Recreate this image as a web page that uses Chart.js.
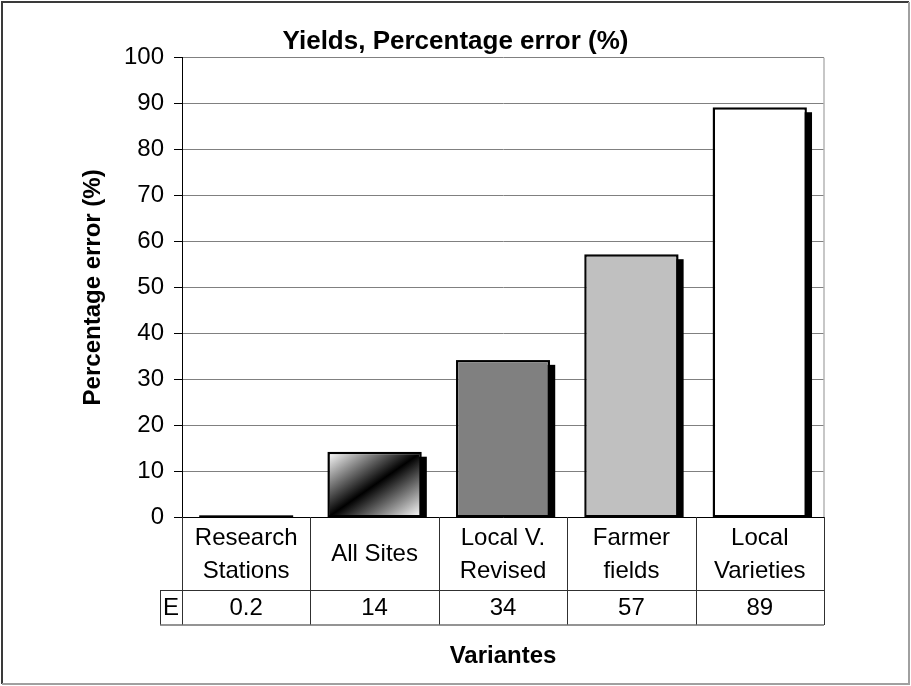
<!DOCTYPE html>
<html>
<head>
<meta charset="utf-8">
<title>Yields, Percentage error (%)</title>
<script src="https://cdn.jsdelivr.net/npm/chart.js@4/dist/chart.umd.min.js"></script>
<style>
  html, body { margin: 0; padding: 0; background: #ffffff; }
  #wrap { width: 911px; height: 686px; position: relative; }
</style>
</head>
<body>
<div id="wrap"><canvas id="chart" width="911" height="686"></canvas></div>
<script>
// ---- data ----
const categories = [
  ['Research', 'Stations'],
  ['All Sites'],
  ['Local V.', 'Revised'],
  ['Farmer', 'fields'],
  ['Local', 'Varieties']
];
const seriesName = 'E';
const errorValues = [0.2, 14, 34, 57, 89];
const yTickMin = 0;
const yTickMax = 100;
const yTickStep = 10;

// ---- styling ----
const FONT = 'Arial, "Liberation Sans", Helvetica, sans-serif';
const barFills = ['#000000', 'diagonal', '#808080', '#c0c0c0', '#ffffff'];

Chart.defaults.font.family = FONT;
Chart.defaults.font.size = 24;
Chart.defaults.color = '#000000';

// White-black-white band running corner to corner (bottom-left to top-right)
function diagonalFill(chart, index) {
  const xs = chart.scales.x, ys = chart.scales.y;
  if (!xs || !ys || !chart.chartArea) return '#808080';
  const cx = xs.getPixelForValue(index);
  const w = (xs.width / categories.length) * 0.72;
  const top = ys.getPixelForValue(errorValues[index]);
  const base = ys.getPixelForValue(0);
  const h = base - top;
  const cy = top + h / 2;
  const n2 = w * w + h * h;
  const k = (w * h) / n2;
  const g = chart.ctx.createLinearGradient(cx - k * h, cy - k * w, cx + k * h, cy + k * w);
  g.addColorStop(0, '#ffffff');
  g.addColorStop(0.5, '#000000');
  g.addColorStop(1, '#ffffff');
  return g;
}

// Page background and outer frame
const framePlugin = {
  id: 'frame',
  beforeDraw(chart) {
    const ctx = chart.ctx;
    ctx.save();
    ctx.fillStyle = '#ffffff';
    ctx.fillRect(0, 0, chart.width, chart.height);
    ctx.restore();
  },
  afterDraw(chart) {
    const ctx = chart.ctx;
    ctx.save();
    ctx.lineWidth = 2;
    ctx.strokeStyle = '#3a3a3a';
    ctx.beginPath();
    ctx.moveTo(2, chart.height - 2);
    ctx.lineTo(2, 2);
    ctx.lineTo(chart.width - 2, 2);
    ctx.stroke();
    ctx.strokeStyle = '#a0a0a0';
    ctx.beginPath();
    ctx.moveTo(chart.width - 2, 2);
    ctx.lineTo(chart.width - 2, chart.height - 2);
    ctx.lineTo(2, chart.height - 2);
    ctx.stroke();
    ctx.restore();
  }
};

// Right edge of the plot area
const plotEdgePlugin = {
  id: 'plotEdge',
  beforeDatasetsDraw(chart) {
    const { ctx, chartArea: a } = chart;
    ctx.save();
    ctx.strokeStyle = '#b4b4b4';
    ctx.lineWidth = 1.5;
    ctx.beginPath();
    ctx.moveTo(a.right, a.top);
    ctx.lineTo(a.right, a.bottom);
    ctx.stroke();
    ctx.restore();
  }
};

// Solid drop shadow behind each bar, and a crisp outline on top of it
const barShadowPlugin = {
  id: 'barShadow',
  beforeDatasetsDraw(chart) {
    const { ctx, chartArea: a } = chart;
    const meta = chart.getDatasetMeta(0);
    ctx.save();
    ctx.beginPath();
    ctx.rect(a.left, a.top, a.right - a.left, a.bottom - a.top);
    ctx.clip();
    ctx.fillStyle = '#000000';
    meta.data.forEach(bar => {
      const { x, y, base, width } = bar.getProps(['x', 'y', 'base', 'width'], true);
      const dx = 6, dy = 4;
      ctx.fillRect(x - width / 2 + dx, Math.min(y, base) + dy, width, Math.abs(base - y));
    });
    ctx.restore();
  },
  afterDatasetsDraw(chart) {
    const { ctx } = chart;
    const meta = chart.getDatasetMeta(0);
    ctx.save();
    ctx.strokeStyle = '#000000';
    ctx.lineWidth = 1.5;
    meta.data.forEach(bar => {
      const { x, y, base, width } = bar.getProps(['x', 'y', 'base', 'width'], true);
      ctx.strokeRect(x - width / 2, Math.min(y, base), width, Math.abs(base - y));
    });
    ctx.restore();
  }
};

// Data table below the axis: category names, then the series row
const dataTablePlugin = {
  id: 'dataTable',
  afterDraw(chart) {
    const { ctx, chartArea: a } = chart;
    const xs = chart.scales.x;
    const n = categories.length;
    const step = (xs.right - xs.left) / n;
    const rowTop = a.bottom;
    const rowMid = rowTop + 73;
    const rowBottom = rowMid + 35;
    const keyLeft = xs.left - 22;

    ctx.save();
    ctx.strokeStyle = '#303030';
    ctx.lineWidth = 1;
    ctx.beginPath();
    for (let i = 0; i <= n; i++) {
      const x = Math.round(xs.left + step * i) + 0.5;
      ctx.moveTo(x, rowTop);
      ctx.lineTo(x, rowBottom);
    }
    ctx.moveTo(keyLeft + 0.5, rowMid);
    ctx.lineTo(keyLeft + 0.5, rowBottom);
    ctx.moveTo(keyLeft, Math.round(rowMid) + 0.5);
    ctx.lineTo(xs.right, Math.round(rowMid) + 0.5);
    ctx.stroke();
    ctx.strokeStyle = '#707070';
    ctx.lineWidth = 1.5;
    ctx.beginPath();
    ctx.moveTo(keyLeft, rowBottom);
    ctx.lineTo(xs.right, rowBottom);
    ctx.stroke();

    ctx.fillStyle = '#000000';
    ctx.font = '24px ' + FONT;
    ctx.textAlign = 'center';
    ctx.textBaseline = 'middle';
    const lineGap = 33;
    categories.forEach((lines, i) => {
      const cx = xs.getPixelForValue(i);
      const cy = (rowTop + rowMid) / 2 + 1;
      lines.forEach((t, j) => {
        ctx.fillText(t, cx, cy + (j - (lines.length - 1) / 2) * lineGap);
      });
      ctx.fillText(String(errorValues[i]), cx, (rowMid + rowBottom) / 2 + 1);
    });
    ctx.fillText(seriesName, (keyLeft + xs.left) / 2, (rowMid + rowBottom) / 2 + 1);
    ctx.restore();
  }
};

new Chart(document.getElementById('chart'), {
  type: 'bar',
  data: {
    labels: categories,
    datasets: [{
      label: seriesName,
      data: errorValues,
      backgroundColor: ctx => {
        const f = barFills[ctx.dataIndex];
        return f === 'diagonal' ? diagonalFill(ctx.chart, ctx.dataIndex) : f;
      },
      borderColor: '#000000',
      borderWidth: 1.5,
      borderSkipped: false,
      barPercentage: 0.72,
      categoryPercentage: 1.0
    }]
  },
  options: {
    responsive: false,
    animation: false,
    devicePixelRatio: 1,
    layout: { padding: { left: 0, right: 0, top: 0, bottom: 0 } },
    plugins: {
      legend: { display: false },
      tooltip: { enabled: false },
      title: {
        display: true,
        text: 'Yields, Percentage error (%)',
        font: { size: 26, weight: 'bold' },
        color: '#000000',
        padding: { top: 26, bottom: 0.5 }
      }
    },
    scales: {
      x: {
        type: 'category',
        offset: true,
        grid: { display: false },
        border: { display: true, color: '#000000', width: 1 },
        ticks: { display: false },
        title: {
          display: true,
          text: 'Variantes',
          font: { size: 24, weight: 'bold' },
          color: '#000000',
          padding: { top: 0, bottom: 15 }
        },
        afterFit(scale) { scale.height = 169; }
      },
      y: {
        type: 'linear',
        min: yTickMin,
        max: yTickMax,
        ticks: { stepSize: yTickStep, padding: 10, color: '#000000' },
        grid: {
          color: '#808080',
          lineWidth: 1,
          drawTicks: true,
          tickLength: 8,
          tickColor: '#000000'
        },
        border: { display: true, color: '#000000', width: 1 },
        title: {
          display: true,
          text: 'Percentage error (%)',
          font: { size: 24, weight: 'bold' },
          color: '#000000',
          padding: { top: 79, bottom: 0 }
        },
        afterFit(scale) { scale.width = 182; }
      },
      spacer: {
        type: 'linear',
        position: 'right',
        display: true,
        grid: { display: false },
        border: { display: false },
        ticks: { display: false },
        afterFit(scale) { scale.width = 87; }
      }
    }
  },
  plugins: [framePlugin, plotEdgePlugin, barShadowPlugin, dataTablePlugin]
});
</script>
</body>
</html>
